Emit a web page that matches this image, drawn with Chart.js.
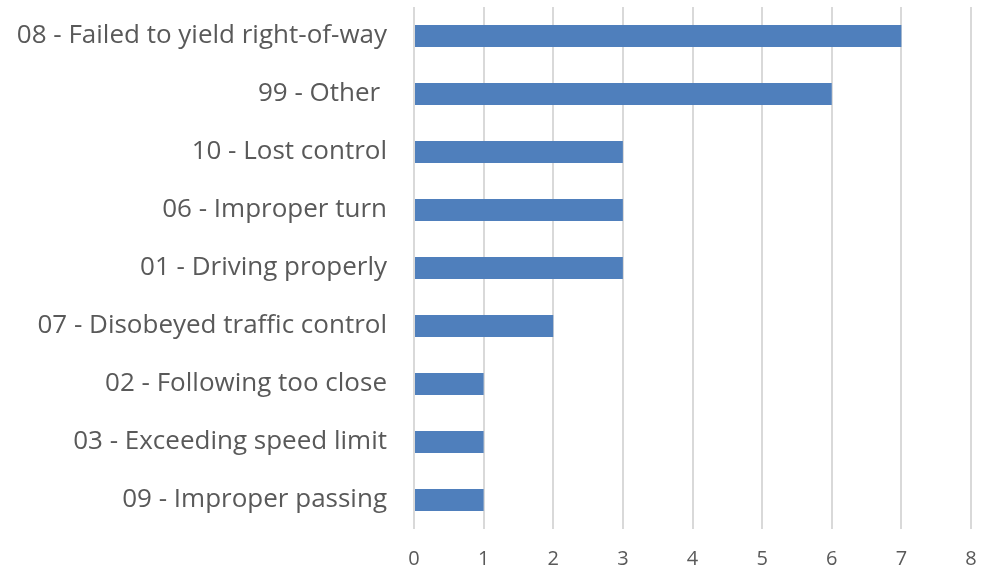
<!DOCTYPE html>
<html>
<head>
<meta charset="utf-8">
<script src="https://cdn.jsdelivr.net/npm/chart.js@4/dist/chart.umd.min.js"></script>
<style>
html,body{margin:0;padding:0;background:#fff;}
#wrap{width:986px;height:572px;position:relative;}
</style>
</head>
<body>
<div id="wrap"><canvas id="c" width="986" height="572"></canvas></div>
<script>
const categories = [
  "08 - Failed to yield right-of-way",
  "99 - Other ",
  "10 - Lost control",
  "06 - Improper turn",
  "01 - Driving properly",
  "07 - Disobeyed traffic control",
  "02 - Following too close",
  "03 - Exceeding speed limit",
  "09 - Improper passing"
];
const counts = [7, 6, 3, 3, 3, 2, 1, 1, 1];
const xTicks = [0, 1, 2, 3, 4, 5, 6, 7, 8];

new Chart(document.getElementById('c'), {
  type: 'bar',
  data: {
    labels: categories,
    datasets: [{
      data: counts,
      backgroundColor: '#4f7fbc',
      borderWidth: 0,
      barPercentage: 0.76,
      categoryPercentage: 0.5
    }]
  },
  options: {
    indexAxis: 'y',
    responsive: false,
    animation: false,
    layout: { padding: { top: 7, right: 15, left: 0, bottom: 0 } },
    plugins: { legend: { display: false }, tooltip: { enabled: false } },
    scales: {
      x: {
        min: 0, max: 8,
        afterBuildTicks: (s) => { s.ticks = xTicks.map(v => ({ value: v })); },
        afterFit: (s) => { s.height = 43; s.paddingLeft = 0; s.paddingRight = 0; },
        grid: { color: '#d9d9d9', lineWidth: 2, drawTicks: false },
        border: { display: false },
        ticks: { color: '#595959', font: { family: 'Open Sans', size: 20 }, padding: 18 }
      },
      y: {
        afterFit: (s) => { s.width = 414; s.paddingTop = 0; s.paddingBottom = 0; },
        grid: { display: false, drawTicks: false },
        border: { display: false },
        ticks: { color: '#595959', font: { family: 'Open Sans', size: 26 }, padding: 27 }
      }
    }
  }
});
</script>
</body>
</html>
